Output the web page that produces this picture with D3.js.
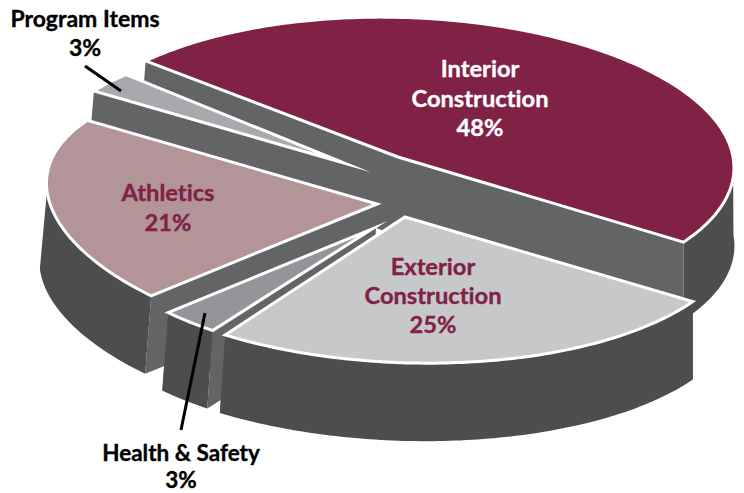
<!DOCTYPE html>
<html>
<head>
<meta charset="utf-8">
<script src="https://cdn.jsdelivr.net/npm/d3@7"></script>
<style>
  html, body { margin: 0; padding: 0; background: #fff; }
  svg { display: block; }
  text { font-family: Lato, "Open Sans", sans-serif; font-weight: 700; text-anchor: middle; font-variant-ligatures: none; stroke-width: 0.35px; }
</style>
</head>
<body>
<div id="chart"></div>
<script>
// budget shares, clockwise from the back left edge of the big slice
const categories = ["Interior Construction", "Exterior Construction", "Health & Safety", "Athletics", "Program Items"];
const shares = [48, 25, 3, 21, 3];
const topColors = ["#7f2246", "#c7c8ca", "#939598", "#b39499", "#a7a9ac"];

// how far each slice is pulled out, and its size on the page
const apexX = [398, 405, 372, 377, 344];
const apexY = [157, 217, 229, 204, 163];
const radii = [335, 333, 295, 330, 292];
const shears = [0.05, 0.07, 0.07, 0.08, 0.04];
const bows = [0, 0, 0.03, 0.04, 0.03];  // widest point of the pie sits above its center
const paintOrder = [0, 4, 3, 2, 1]; // back to front

const width = 744,
    height = 493,
    depth = 78,
    squash = 0.428,  // flattening of the circle
    lean = 0.025;    // near side a bit bigger than far side

const wallColor = "#636466",
    rimColor = "#4d4d4f",
    red = "#7f2246";

const svg = d3.select("#chart")
    .append("svg")
    .attr("width", width)
    .attr("height", height)
    .attr("viewBox", [0, 0, width, height]);

const pie = d3.pie()
    .sort(null)
    .startAngle(-47 * Math.PI / 180)
    .endAngle((360 - 47) * Math.PI / 180);

const arcs = pie(shares);

// bottom face shrinks slightly toward the right hand side
const sink = d3.scaleLinear().domain([150, 690]).range([-6, 0]);

// angle on the pie -> point on the page, z=0 top face, z=1 bottom face
function project(i, a, r, z) {
    const u = Math.sin(a), v = -Math.cos(a);
    const w = 1 - lean * v;
    const x = apexX[i] + r * radii[i] * (u / w + shears[i] * v);
    const y = apexY[i] + r * radii[i] * (squash * v / w - bows[i] * u * u);
    return z ? [x + sink(x), y + depth] : [x, y];
}

const line = d3.line();

function arcPoints(i, a0, a1, z) {
    const n = Math.max(2, Math.ceil((a1 - a0) * 60));
    return d3.range(n + 1).map(k => project(i, a0 + (a1 - a0) * k / n, 1, z));
}

function wall(i, a) {
    const pts = [project(i, a, 0, 0), project(i, a, 1, 0), project(i, a, 1, 1), project(i, a, 0, 1)];
    // same winding for every wall, otherwise overlaps turn into holes
    if (d3.polygonArea(pts) < 0) pts.reverse();
    return line(pts) + "Z";
}

function rim(i, a0, a1) {
    // only the part of the rim that faces the viewer
    const from = Math.max(a0, Math.PI / 2), to = Math.min(a1, Math.PI * 1.5);
    if (to <= from) return null;
    return line(arcPoints(i, from, to, 0).concat(arcPoints(i, from, to, 1).reverse())) + "Z";
}

function topFace(i, a0, a1) {
    return line([project(i, a0, 0, 0)].concat(arcPoints(i, a0, a1, 0))) + "Z";
}

const slice = svg.selectAll(".slice")
    .data(paintOrder)
    .join("g")
    .attr("class", "slice");

slice.each(function(i) {
    const g = d3.select(this), d = arcs[i];
    // both walls in one path so no seam shows where they meet
    g.append("path").attr("d", wall(i, d.startAngle) + wall(i, d.endAngle)).attr("fill", wallColor);
    const band = rim(i, d.startAngle, d.endAngle);
    if (band) g.append("path").attr("d", band).attr("fill", rimColor);
    g.append("path")
        .attr("d", topFace(i, d.startAngle, d.endAngle))
        .attr("fill", topColors[i])
        .attr("stroke", "#fff")
        .attr("stroke-width", 3)
        .attr("stroke-linejoin", "miter")
        .attr("stroke-miterlimit", 30);
});

// leader lines for the two small slices
svg.append("line").attr("x1", 85).attr("y1", 66).attr("x2", 121).attr("y2", 91)
    .attr("stroke", "#000").attr("stroke-width", 3);
svg.append("line").attr("x1", 205).attr("y1", 313).attr("x2", 181).attr("y2", 430)
    .attr("stroke", "#000").attr("stroke-width", 3);

function label(x, lines, color, size) {
    lines.forEach(([txt, y]) => {
        svg.append("text")
            .attr("x", x)
            .attr("y", y)
            .attr("fill", color)
            .attr("stroke", color)
            .attr("font-size", size)
            .text(txt);
    });
}

label(480, [["Interior", 77], ["Construction", 107], ["48%", 136]], "#fff", 23.7);
label(433, [["Exterior", 275], ["Construction", 304], ["25%", 333]], red, 23.7);
label(168, [["Athletics", 201], ["21%", 231]], red, 23.7);
label(85, [["Program Items", 27], ["3%", 56]], "#000", 23);
label(181, [["Health & Safety", 461], ["3%", 488]], "#000", 22.5);
</script>
</body>
</html>
